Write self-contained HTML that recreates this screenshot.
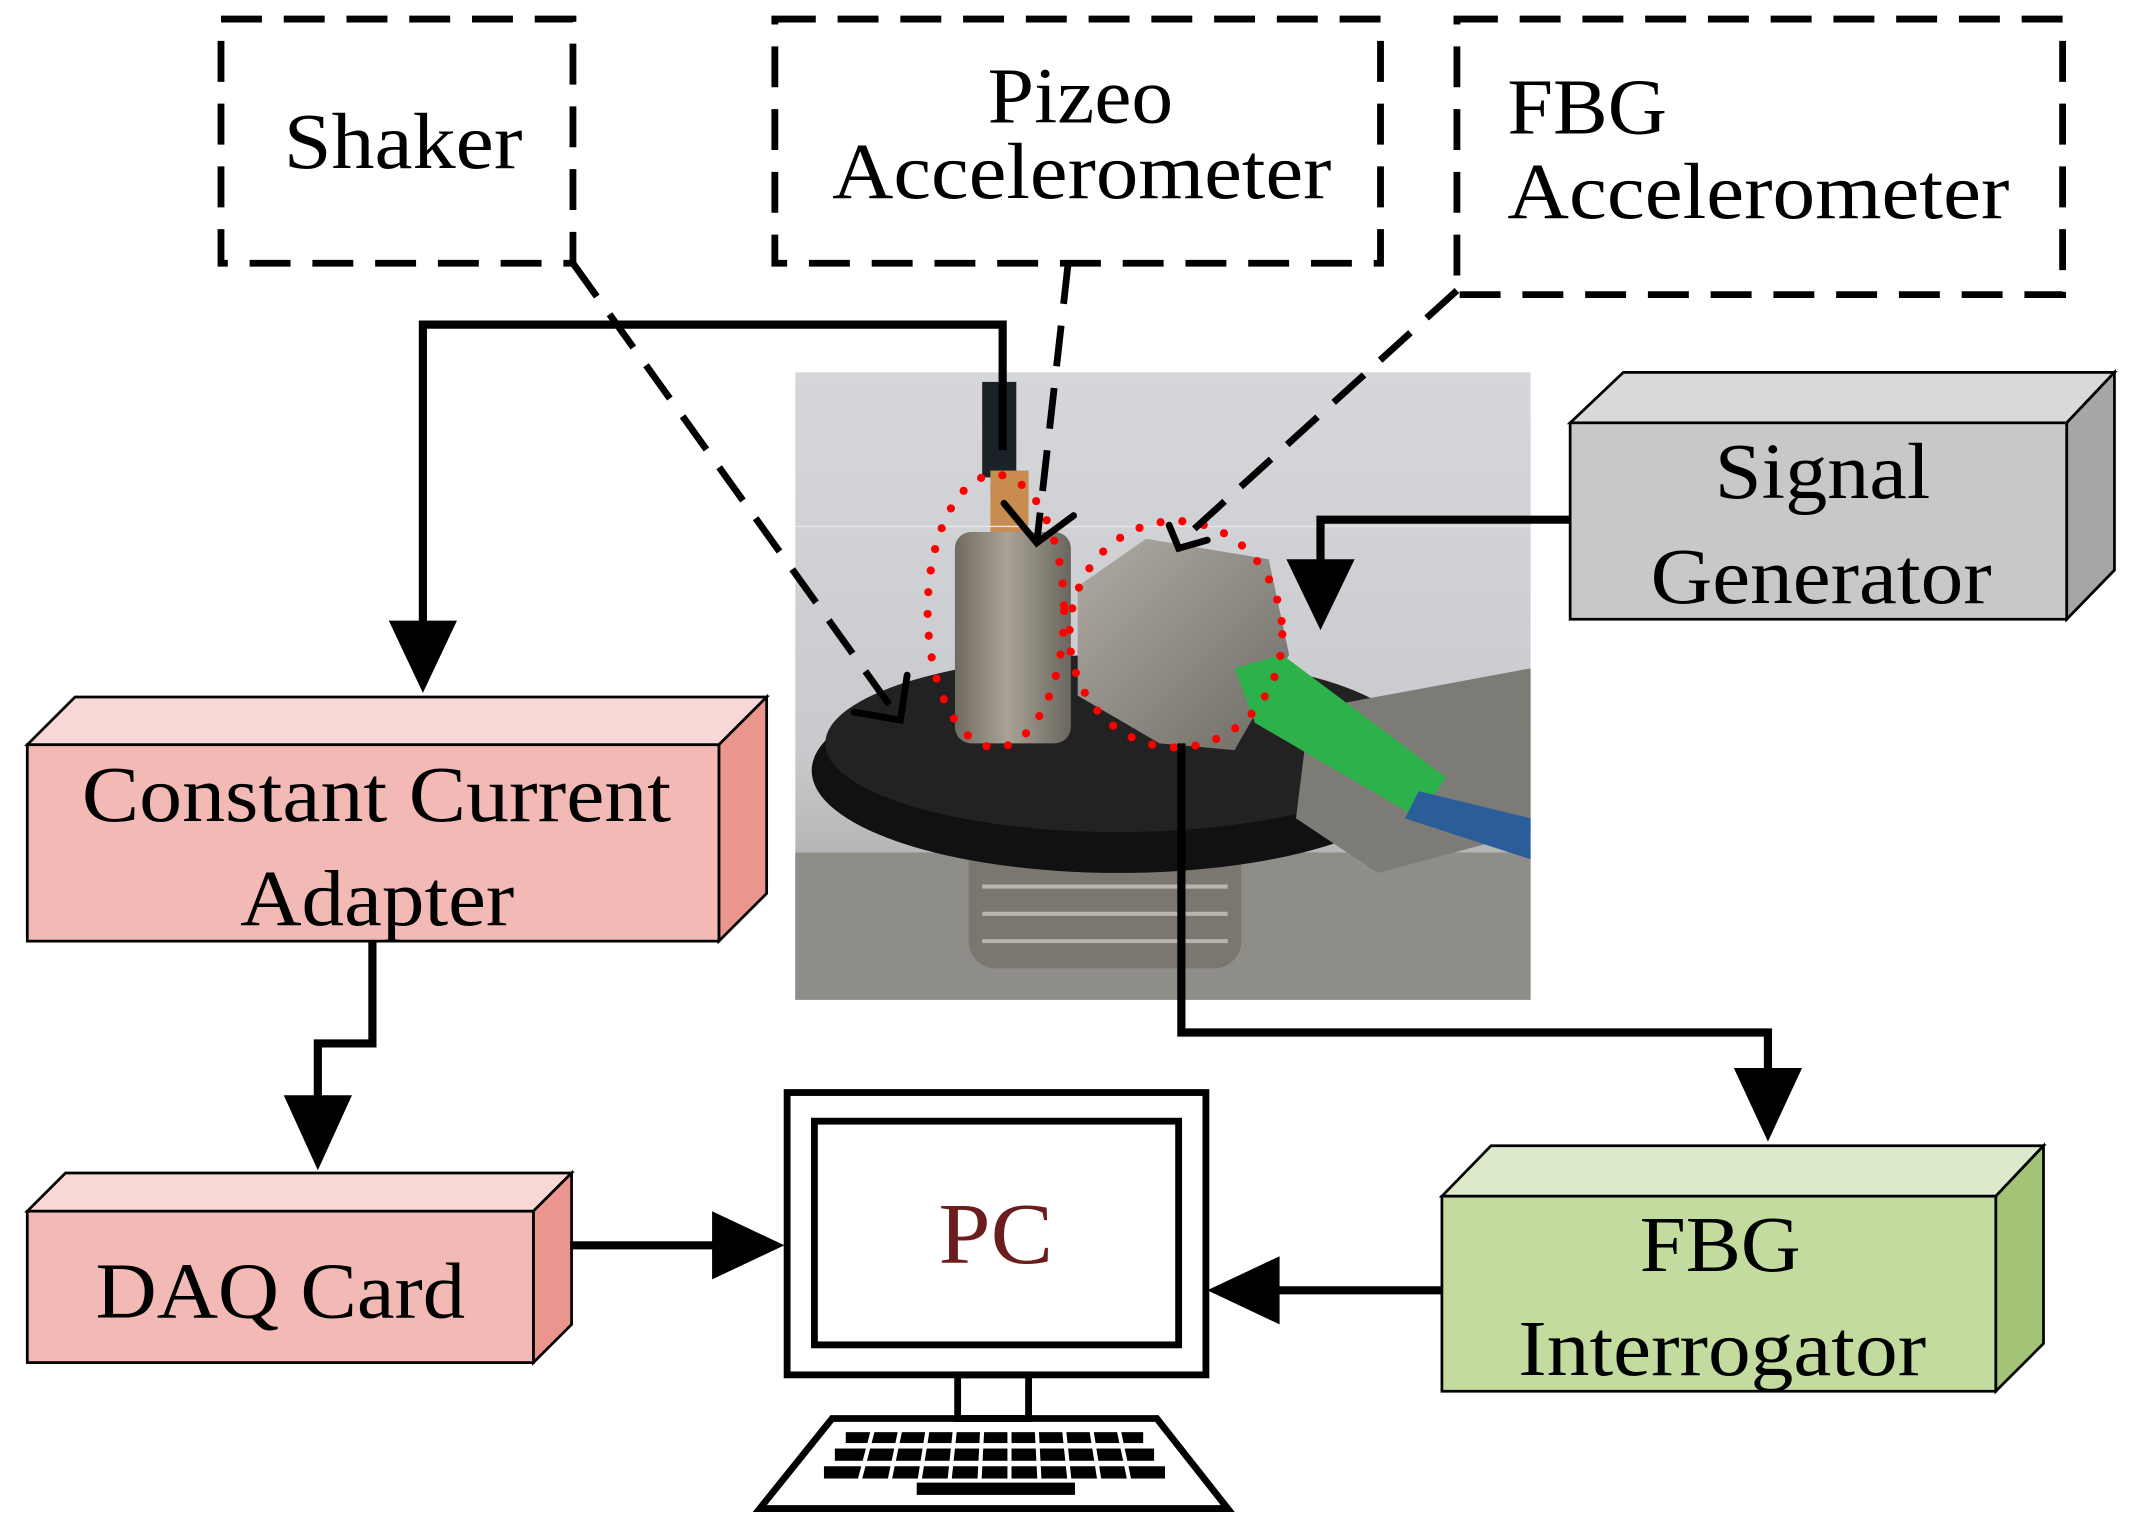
<!DOCTYPE html>
<html><head><meta charset="utf-8"><style>
html,body{margin:0;padding:0;background:#fff}
svg{display:block}
text{font-family:"Liberation Serif",serif;}
</style></head><body>
<svg width="2139" height="1529" viewBox="0 0 1568 1121" preserveAspectRatio="none" xmlns="http://www.w3.org/2000/svg">
<defs>
<linearGradient id="bg" x1="0" y1="0" x2="0" y2="1">
<stop offset="0" stop-color="#d6d7db"/><stop offset="0.6" stop-color="#c9cacd"/><stop offset="1" stop-color="#9a9a96"/></linearGradient>
<linearGradient id="cyl" x1="0" y1="0" x2="1" y2="0">
<stop offset="0" stop-color="#6f6a60"/><stop offset="0.45" stop-color="#a9a396"/><stop offset="1" stop-color="#6a665e"/></linearGradient>
<linearGradient id="box" x1="0" y1="0" x2="1" y2="1">
<stop offset="0" stop-color="#b0aca4"/><stop offset="1" stop-color="#6e6b66"/></linearGradient>
</defs>
<rect x="583" y="273" width="539" height="460" fill="url(#bg)"/>
<rect x="583" y="625" width="539" height="108" fill="#8f8d87"/>
<rect x="710" y="600" width="200" height="110" rx="20" fill="#7b776f"/>
<g stroke="#b9b5ac" stroke-width="3">
<line x1="720" y1="650" x2="900" y2="650"/><line x1="720" y1="670" x2="900" y2="670"/><line x1="720" y1="690" x2="900" y2="690"/></g>
<ellipse cx="820" cy="565" rx="225" ry="75" fill="#111"/>
<ellipse cx="820" cy="545" rx="215" ry="65" fill="#222"/>
<polygon points="960,520 1122,490 1122,610 1010,640 950,600" fill="#7d7b76"/>
<rect x="720" y="280" width="25" height="70" fill="#1a2228"/>
<rect x="726" y="345" width="28" height="50" fill="#c78c4e"/>
<rect x="700" y="390" width="85" height="155" rx="12" fill="url(#cyl)"/>
<polygon points="790,430 840,395 930,410 945,480 905,550 850,545 790,510" fill="url(#box)"/>
<polygon points="905,490 940,480 1060,570 1040,600 920,530" fill="#2db24b"/>
<polygon points="1040,580 1122,600 1122,630 1030,600" fill="#2a5d9a"/>
<line x1="583" y1="386" x2="1122" y2="386" stroke="#e8e8ea" stroke-width="1"/>
<ellipse cx="730" cy="448" rx="50" ry="100" fill="none" stroke="#f00" stroke-width="6" stroke-linecap="round" stroke-dasharray="0 16"/>
<ellipse cx="862" cy="465" rx="78" ry="83" fill="none" stroke="#f00" stroke-width="6" stroke-linecap="round" stroke-dasharray="0 16"/>
<g fill="none" stroke="#000" stroke-width="5" stroke-dasharray="30 16">
<rect x="162" y="14" width="258" height="179"/>
<rect x="568" y="14" width="444" height="179"/>
<rect x="1068" y="14" width="444" height="202"/>
<line x1="420" y1="193" x2="660" y2="528"/>
<line x1="783" y1="193" x2="760" y2="398"/>
<line x1="1068" y1="213" x2="862" y2="400"/>
</g>
<g fill="none" stroke="#000" stroke-width="5" stroke-linecap="round">
<polyline points="626,522 660,528 665,495"/>
<polyline points="736,369 760,398 787,378"/>
<polyline points="857,385 864,402 885,396"/>
</g>
<g font-size="58">
<text x="208" y="123" textLength="175" lengthAdjust="spacingAndGlyphs">Shaker</text>
<text x="724" y="90" textLength="136" lengthAdjust="spacingAndGlyphs">Pizeo</text>
<text x="610" y="145" textLength="366" lengthAdjust="spacingAndGlyphs">Accelerometer</text>
<text x="1105" y="98" textLength="117" lengthAdjust="spacingAndGlyphs">FBG</text>
<text x="1105" y="160" textLength="368" lengthAdjust="spacingAndGlyphs">Accelerometer</text>
</g>
<g stroke="#000" stroke-width="2">
<polygon points="1151,310 1190,273 1550,273 1515,310" fill="#d9d9d9"/>
<polygon points="1515,310 1550,273 1550,418 1515,454" fill="#a6a6a6"/>
<rect x="1151" y="310" width="364" height="144" fill="#c8c8c8"/>
<polygon points="20,546 55,511 562,511 527,546" fill="#f8d8d6"/>
<polygon points="527,546 562,511 562,655 527,690" fill="#ea958e"/>
<rect x="20" y="546" width="507" height="144" fill="#f3b9b5"/>
<polygon points="20,888 48,860 419,860 391,888" fill="#f8d8d6"/>
<polygon points="391,888 419,860 419,971 391,999" fill="#ea958e"/>
<rect x="20" y="888" width="371" height="111" fill="#f3b9b5"/>
<polygon points="1057,877 1093,840 1498,840 1463,877" fill="#dde9cb"/>
<polygon points="1463,877 1498,840 1498,985 1463,1020" fill="#a3c476"/>
<rect x="1057" y="877" width="406" height="143" fill="#c4dba0"/>
</g>
<g font-size="58">
<text x="1257" y="365" textLength="158" lengthAdjust="spacingAndGlyphs">Signal</text>
<text x="1210" y="442" textLength="250" lengthAdjust="spacingAndGlyphs">Generator</text>
<text x="60" y="602" textLength="432" lengthAdjust="spacingAndGlyphs">Constant Current</text>
<text x="176" y="678" textLength="201" lengthAdjust="spacingAndGlyphs">Adapter</text>
<text x="70" y="966" textLength="271" lengthAdjust="spacingAndGlyphs">DAQ Card</text>
<text x="1202" y="932" textLength="118" lengthAdjust="spacingAndGlyphs">FBG</text>
<text x="1113" y="1008" textLength="299" lengthAdjust="spacingAndGlyphs">Interrogator</text>
</g>
<g fill="none" stroke="#000" stroke-width="6">
<polyline points="735,330 735,238 310,238 310,460"/>
<polyline points="273,690 273,765 233,765 233,808"/>
<line x1="418" y1="913" x2="528" y2="913"/>
<line x1="1057" y1="946" x2="932" y2="946"/>
<polyline points="866,545 866,757 1296,757 1296,788"/>
<polyline points="1151,381 968,381 968,412"/>
</g>
<g fill="#000">
<polygon points="285,455 335,455 310,508"/>
<polygon points="208,803 258,803 233,858"/>
<polygon points="522,888 522,938 575,913"/>
<polygon points="938,921 938,971 885,946"/>
<polygon points="1271,783 1321,783 1296,837"/>
<polygon points="943,410 993,410 968,462"/>
</g>
<g fill="none" stroke="#000" stroke-width="5">
<rect x="577" y="801" width="307" height="207"/>
<rect x="597" y="822" width="267" height="164"/>
<rect x="702" y="1008" width="52" height="32"/>
<polygon points="610,1040 848,1040 900,1106 557,1106"/>
</g>
<g fill="#000">
<rect x="620" y="1050" width="218" height="8"/>
<rect x="612" y="1062" width="234" height="9"/>
<rect x="604" y="1075" width="250" height="9"/>
<rect x="672" y="1087" width="116" height="9"/>
</g>
<g stroke="#fff" stroke-width="3">
<line x1="640" y1="1048" x2="630" y2="1086"/><line x1="660" y1="1048" x2="652" y2="1086"/>
<line x1="680" y1="1048" x2="674" y2="1086"/><line x1="700" y1="1048" x2="696" y2="1086"/>
<line x1="720" y1="1048" x2="718" y2="1086"/><line x1="740" y1="1048" x2="740" y2="1086"/>
<line x1="760" y1="1048" x2="762" y2="1086"/><line x1="780" y1="1048" x2="784" y2="1086"/>
<line x1="800" y1="1048" x2="806" y2="1086"/><line x1="820" y1="1048" x2="828" y2="1086"/>
</g>
<text x="688" y="926" font-size="64" fill="#6b1c1c" textLength="84" lengthAdjust="spacingAndGlyphs">PC</text>
</svg>
</body></html>
